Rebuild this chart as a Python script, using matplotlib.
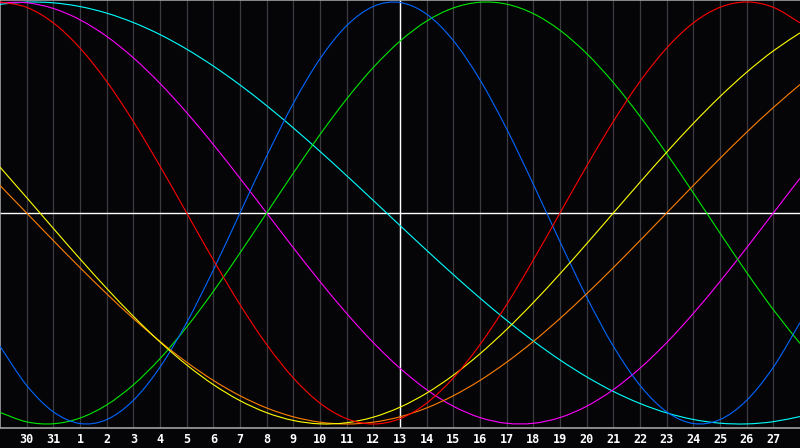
import numpy as np
import matplotlib
matplotlib.use('Agg')
import matplotlib.pyplot as plt
from matplotlib.path import Path
from matplotlib.patches import PathPatch

# day positions 0..30 (gridlines), values at each day
days = np.arange(31)
day_labels = ['30', '31'] + [str(d) for d in range(1, 28)]
label_pos = np.arange(1, 30)

# emotional (red)
red = [1.0, 0.9749, 0.9010, 0.7818, 0.6235, 0.4339, 0.2225, 0.0, -0.2225, -0.4339,
       -0.6235, -0.7818, -0.9010, -0.9749, -1.0, -0.9749, -0.9010, -0.7818, -0.6235, -0.4339,
       -0.2225, 0.0, 0.2225, 0.4339, 0.6235, 0.7818, 0.9010, 0.9749, 1.0, 0.9749, 0.9010]
# physical (blue)
blue = [-0.6311, -0.8170, -0.9423, -0.9977, -0.9791, -0.8879, -0.7308, -0.5196, -0.2698, 0.0,
        0.2698, 0.5196, 0.7308, 0.8879, 0.9791, 0.9977, 0.9423, 0.8170, 0.6311, 0.3984,
        0.1362, -0.1362, -0.3984, -0.6311, -0.8170, -0.9423, -0.9977, -0.9791, -0.8879, -0.7308, -0.5196]
# intellectual (green)
green = [-0.9450, -0.9898, -0.9989, -0.9718, -0.9096, -0.8146, -0.6901, -0.5406, -0.3717, -0.1893,
         0.0, 0.1893, 0.3717, 0.5406, 0.6901, 0.8146, 0.9096, 0.9718, 0.9989, 0.9898,
         0.9450, 0.8660, 0.7557, 0.6182, 0.4582, 0.2817, 0.0951, -0.0951, -0.2817, -0.4582, -0.6182]
# intuitive (magenta)
magenta = [0.9966, 0.9966, 0.9694, 0.9158, 0.8372, 0.7357, 0.6142, 0.4759, 0.3247, 0.1646,
           0.0, -0.1646, -0.3247, -0.4759, -0.6142, -0.7357, -0.8372, -0.9158, -0.9694, -0.9966,
           -0.9966, -0.9694, -0.9158, -0.8372, -0.7357, -0.6142, -0.4759, -0.3247, -0.1646, 0.0, 0.1646]
# aesthetic (yellow)
yellow = [0.2174, 0.0730, -0.0730, -0.2174, -0.3572, -0.4894, -0.6112, -0.7199, -0.8133, -0.8893,
          -0.9464, -0.9833, -0.9993, -0.9940, -0.9675, -0.9204, -0.8536, -0.7685, -0.6671, -0.5517,
          -0.4245, -0.2881, -0.1456, 0.0, 0.1456, 0.2881, 0.4245, 0.5517, 0.6671, 0.7685, 0.8536]
# awareness (orange)
orange = [0.1305, 0.0, -0.1305, -0.2588, -0.3827, -0.5, -0.6088, -0.7071, -0.7934, -0.8660,
          -0.9239, -0.9659, -0.9914, -1.0, -0.9914, -0.9659, -0.9239, -0.8660, -0.7934, -0.7071,
          -0.6088, -0.5, -0.3827, -0.2588, -0.1305, 0.0, 0.1305, 0.2588, 0.3827, 0.5, 0.6088]
# spiritual (cyan)
cyan = [0.9890, 0.9996, 0.9961, 0.9785, 0.9473, 0.9028, 0.8457, 0.7765, 0.6965, 0.6068,
        0.5086, 0.4031, 0.2920, 0.1769, 0.0593, -0.0593, -0.1769, -0.2920, -0.4031, -0.5086,
        -0.6068, -0.6965, -0.7765, -0.8457, -0.9028, -0.9473, -0.9785, -0.9961, -0.9996, -0.9890, -0.9646]


def smooth_path(x, y):
    # catmull-rom style bezier through the day points (drawing only)
    x = np.asarray(x, float)
    y = np.asarray(y, float)
    verts = [(x[0], y[0])]
    codes = [Path.MOVETO]
    n = len(x)
    for i in range(n - 1):
        x0, y0 = (x[i - 1], y[i - 1]) if i > 0 else (x[i], y[i])
        x3, y3 = (x[i + 2], y[i + 2]) if i + 2 < n else (x[i + 1], y[i + 1])
        c1 = (x[i] + (x[i + 1] - x0) / 6, y[i] + (y[i + 1] - y0) / 6)
        c2 = (x[i + 1] - (x3 - x[i]) / 6, y[i + 1] - (y3 - y[i]) / 6)
        verts += [c1, c2, (x[i + 1], y[i + 1])]
        codes += [Path.CURVE4] * 3
    return Path(verts, codes)


bg = '#050508'
fig = plt.figure(figsize=(8, 4.48), dpi=100, facecolor=bg)
ax = fig.add_axes([0, 20/448, 1, 428/448], facecolor=bg)
ax.set_xlim(0, 30)
ax.set_ylim(-215/211, 213/211)

for d in days[1:-1]:
    ax.axvline(d, color='#3c3c40', lw=0.9, zorder=1)
ax.axvline(15, color='white', lw=1.0, zorder=2)
ax.axhline(0, color='white', lw=1.0, zorder=2)

series = [(cyan, '#00ffff'), (magenta, '#ff00ff'), (green, '#00e800'), (blue, '#0066ff'),
          (orange, '#ff7f00'), (yellow, '#ffff00'), (red, '#ff0000')]
for vals, c in series:
    ax.add_patch(PathPatch(smooth_path(days, vals), facecolor='none',
                           edgecolor=c, lw=0.8, zorder=3))

for s in ['top', 'left', 'bottom']:
    ax.spines[s].set_color('#a0a0a0')
    ax.spines[s].set_linewidth(1.2)
ax.spines['right'].set_visible(False)

ax.set_xticks(label_pos)
ax.set_xticklabels(day_labels)
ax.tick_params(axis='x', length=0, pad=3.5, colors='white', labelsize=8.5)
for t in ax.get_xticklabels():
    t.set_fontweight('bold')
    t.set_family('DejaVu Sans Mono')
ax.set_yticks([])

fig.savefig('out.png', dpi=100, facecolor=bg)
